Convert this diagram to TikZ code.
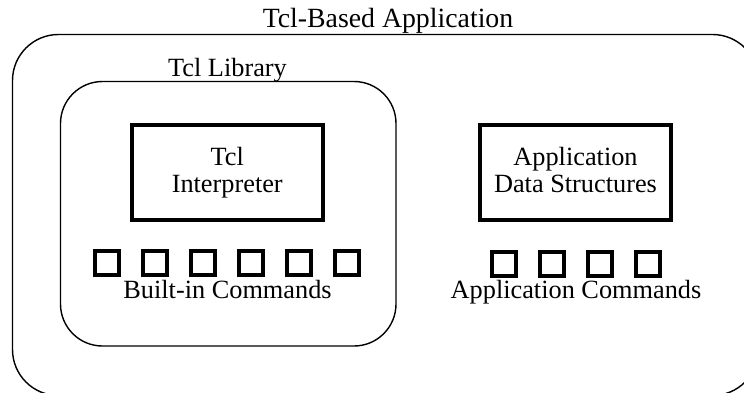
\documentclass[tikz,border=0pt]{standalone}
\usepackage{fontspec}
\setmainfont{Liberation Serif}
\begin{document}
\begin{tikzpicture}[x=1pt,y=-1pt,
  every node/.style={font=\fontsize{26.3}{27}\selectfont},
  container/.style={draw, line width=1.4pt, rounded corners=#1, inner sep=0pt},
  thickbox/.style={draw, line width=4.5pt, inner sep=0pt, align=center,
    minimum width=191pt, minimum height=95pt},
  cmdsq/.style={draw, line width=4pt, inner sep=0pt, minimum size=24pt},
  lbl/.style={anchor=base, inner sep=0pt}]
\useasboundingbox (0,0) rectangle (744,392);
\begin{scope}
\clip (0,0) rectangle (744,392);
\node[container=46pt, minimum width=746pt, minimum height=361pt] (app) at (385.5,215) {};
\end{scope}
\node[lbl, font=\fontsize{27.8}{28}\selectfont] (applbl) at (388,27) {Tcl-Based Application};
\node[container=42pt, minimum width=335.5pt, minimum height=264.5pt] (lib) at (228.25,213.75) {};
\node[lbl] (liblbl) at (227.5,76) {Tcl Library};
\node[thickbox] (interp) at (227.25,172.5) {Tcl\\Interpreter};
\node[thickbox] (data) at (575.5,172.5) {Application\\Data Structures\vphantom{p}};
\foreach \i/\x in {1/107,2/155,3/203,4/251,5/299,6/347}
  \node[cmdsq] (b\i) at (\x,262.5) {};
\node[lbl] (blbl) at (227.5,298) {Built-in Commands};
\foreach \i/\x in {1/504,2/552,3/600,4/648}
  \node[cmdsq] (a\i) at (\x,264) {};
\node[lbl] (albl) at (576,298) {Application Commands};
\end{tikzpicture}
\end{document}
